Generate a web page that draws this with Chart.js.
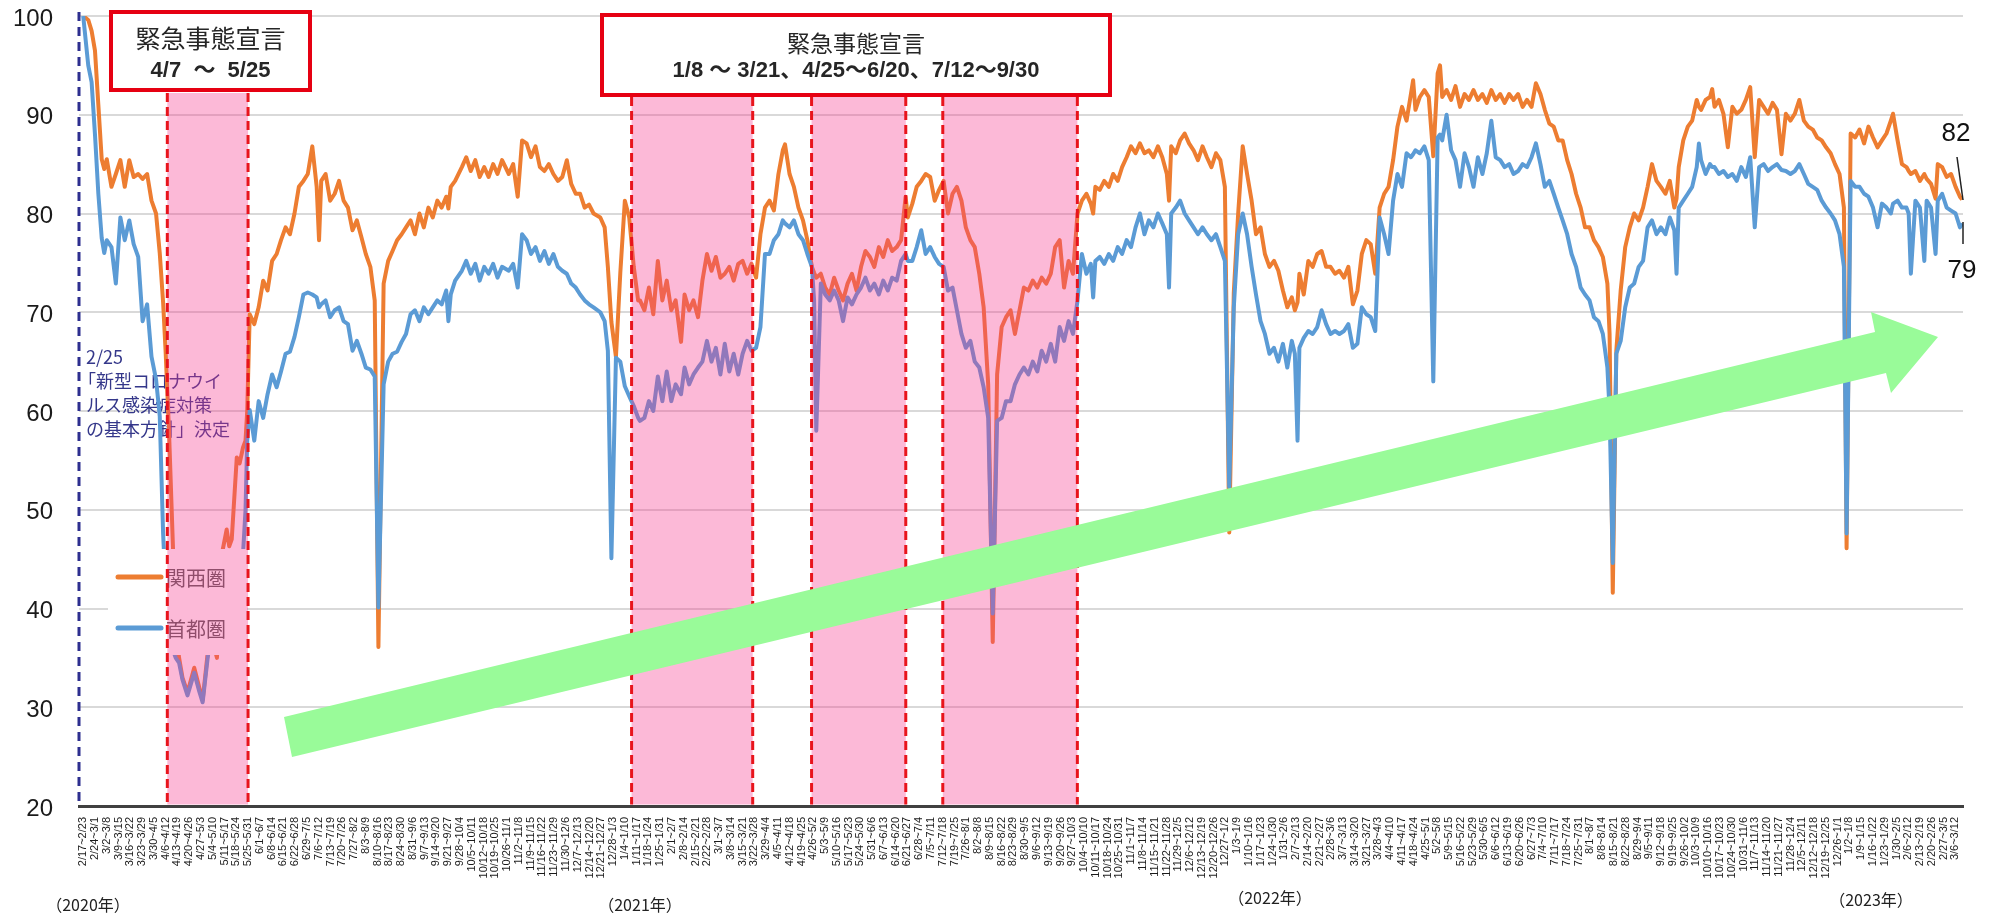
<!DOCTYPE html>
<html lang="ja">
<head>
<meta charset="utf-8">
<title>首都圏・関西圏 推移</title>
<script src="https://cdn.jsdelivr.net/npm/chart.js@4.4.1/dist/chart.umd.min.js"></script>
<style>
  html, body { margin: 0; padding: 0; background: #fff; }
  #wrap { width: 1995px; height: 913px; position: relative; }
</style>
</head>
<body>
<div id="wrap"><canvas id="chart"></canvas></div>
<script>
// day 0 = 2020-02-17 (first week on the axis)
const day0 = Date.UTC(2020, 1, 17);
const dayOf = s => { const [Y, M, D] = s.split('-').map(Number); return (Date.UTC(Y, M - 1, D) - day0) / 864e5; };

// days since 2020-02-17 for each reading
const days = [
  // 2020 spring
  0, 3, 5, 7, 9, 11, 12.5, 14, 16.8, 19.4,
  22.1, 24.7, 27.4, 30, 32.7, 35.3, 38, 40.6, 43.3, 45.5,
  47.5, 49, 51, 53, 55, 57, 59, 62, 66, 69,
  71, 74, 76.5, 79.5, 81, 83, 85.3, 86.8, 88.3, 91.3,
  93, 95, 96.5, 97.5, 99,
  // 2020 summer - winter
  101.7, 104.3, 107, 109.6, 112.3, 115, 117.6, 120.3, 122.9, 125.6,
  128.2, 130.9, 133.5, 136.2, 138.8, 140.2, 141.5, 144.1, 146.8, 149.5,
  152.1, 154.8, 157.4, 160.1, 162.7, 165.4, 168, 170.7, 173.3, 175.5,
  178.6, 181.3, 183.9, 186.6, 189.3, 191.9, 194.6, 197.2, 199.9, 202.5,
  205.2, 207.8, 210.5, 213.1, 215.8, 217.1, 218.5, 221.1, 225.1, 227.7,
  230.4, 233.1, 235.7, 238.4, 241, 243.7, 246.3, 249, 253, 255.6,
  258.3, 260.9, 263.6, 266.2, 268.9, 271.5, 274.2, 276.8, 279.5, 282.2,
  284.8, 287.5, 290.1, 292.8, 295.4, 298.1, 300.7, 303.4, 307.4, 310,
  311.9, 314, 316.7, 319.3, 322, 324.6, 327.3, 329.9,
  // 2021
  331, 333.6, 336.3, 338.9, 341.6, 344.3, 346.9, 349.6, 352.2, 355.4,
  357.5, 360.2, 362.8, 365.5, 368.1, 370.8, 373.5, 376.1, 378.8, 381.4,
  384.1, 386.7, 389.4, 392, 394.7, 397.3, 400, 402.6, 405.3, 408,
  410.6, 413.3, 415.9, 417.2, 419.9, 422.5, 425.2, 427.9, 430.5, 433.2,
  434.5, 435.8, 438.5, 441.1, 443.8, 446.4, 449.1, 451.7, 454.4, 457,
  459.7, 462.4, 465, 467.7, 470.3, 473, 475.6, 478.3, 480.9, 483.6,
  486.2, 488.9, 490.2, 492.9, 495.5, 498.2, 500.8, 503.5, 506.2, 508.8,
  511.5, 514.1, 516.8, 519.4, 522.1, 524.7, 527.4, 530, 532.7, 535.3,
  538, 540.7, 543.3, 546, 548.6, 551.3, 553.9, 556.6, 559.2, 561.9,
  564.5, 567.2, 569.8, 572.5, 575.2, 577.8, 580.5, 583.1, 585.8, 588.4,
  591.1, 593.7, 596.4, 599, 600.4, 601.7, 604.3, 607, 609.7, 612.3,
  615, 617.6, 620.3, 622.9, 625.6, 628.2, 630.9, 633.5, 636.2, 638.9,
  641.5, 644.2, 645.5, 646.8, 649.5, 652.1, 654.8, 657.4, 660.1, 662.7,
  665.4, 668, 670.7, 673.4, 676, 678.7, 681.3, 684, 686.6, 689.3,
  691.9, 694.6, 697.2, 699.9, 702.5, 705.2, 707.9, 710.5, 713.2, 715.8,
  718.5,
  // 2022 - 2023
  720.3, 721.9, 723, 725.6, 728.3, 730.9, 733.6, 736.2, 738.9, 741.5,
  744.2, 746.8, 749.5, 752.1, 754.8, 757.5, 760.1, 762.8, 765.4, 768.1,
  770.7, 773.4, 776, 778.7, 781.3, 784, 786.7, 789.3, 790.6, 792,
  794.6, 797.3, 799.9, 802.6, 805.2, 806.6, 807.9, 810.5, 813.2, 815.8,
  818.5, 821.2, 823.8, 826.5, 829.1, 831.8, 834.4, 837.1, 839.7, 842.4,
  845, 847.7, 850.3, 853, 855.7, 858.3, 861, 863.6, 866.3, 868.9,
  871.6, 874.2, 876.9, 879.5, 882.2, 884.8, 887.5, 890.2, 892.8, 895.5,
  898.1, 900.8, 903.4, 906.1, 907.4, 909.3, 911.4, 914, 916.7, 919.4,
  922, 924.7, 927.3, 930, 932.6, 935.3, 937.9, 940.6, 943.2, 945.9,
  947.2, 948.5, 951.2, 953.9, 956.5, 959.2, 960.5, 961.8, 964.5, 967.1,
  968.4, 969.8, 972.4, 975.1, 977.7, 980.4, 983, 985.7, 988.4, 991,
  993.7, 996.3, 999, 1001.6, 1004.3, 1006.9, 1009.6, 1012.2, 1014.9, 1017.5,
  1020.2, 1022.9, 1025.5, 1028.2, 1030.8, 1033.5, 1036.1, 1038.8, 1041.4, 1044.1,
  1046.7, 1048.3, 1050.7, 1053.4, 1056, 1058.7, 1061.3, 1064, 1066.7, 1069.3,
  1072, 1074.6, 1075.9, 1078.6, 1081.2, 1083.9, 1085.2, 1086.5, 1089.2, 1091.9,
  1094.5, 1095.9, 1098.5, 1101.2, 1102.5, 1105.1, 1107.8, 1110.4, 1113.1, 1115.7,
  1117
];

// 関西圏
const kansai = [
  100, 99.6, 98.5, 96.5, 91, 85.5, 84.5, 85.5, 82.7, 84,
  85.4, 82.7, 85.4, 83.7, 84, 83.5, 84, 81.3, 80, 76,
  71, 66, 58, 48, 38, 35, 33, 31.5, 34, 32,
  30.7, 35.5, 37, 35, 40, 46, 48, 46.3, 47, 55.3,
  54.7, 56.3, 57, 60, 69.8,
  68.8, 70.5, 73.2, 72.2, 75.2, 75.9, 77.3, 78.6, 77.9, 80,
  82.7, 83.3, 84, 86.8, 82.7, 77.3, 83.3, 84, 81.3, 82,
  83.3, 81.3, 80.6, 78.3, 79.3, 77.6, 75.9, 74.6, 71.2, 36.1,
  72.9, 75.2, 76.2, 77.3, 77.9, 78.6, 79.3, 77.9, 80, 78.6,
  80.6, 79.6, 81.3, 80.6, 81.7, 80.5, 82.7, 83.3, 84.7, 85.7,
  84.3, 85.4, 83.7, 84.7, 83.7, 85, 84, 85.4, 84, 85,
  81.7, 87.4, 87.1, 85.7, 86.8, 84.7, 84.3, 85, 84, 83.3,
  83.7, 85.4, 83, 82, 82, 80.6, 80.9, 80, 79.6, 78.6,
  74.6, 69, 65.5, 74, 81.3, 79.6, 74.6, 71.2,
  71.2, 70.2, 72.5, 69.8, 75.2, 71.2, 73.2, 70.2, 71.2, 67,
  71.8, 70.2, 71.2, 69.5, 73.2, 75.9, 74.2, 75.6, 73.5, 73.9,
  74.6, 73.2, 74.9, 75.2, 73.9, 74.9, 73.5, 77.9, 80.6, 81.3,
  80.3, 84, 86.4, 87, 84, 82.7, 80.6, 79.3, 77.3, 74.6,
  74, 73.5, 73.9, 72.5, 71.8, 73.5, 72.2, 71.2, 72.9, 73.9,
  72.2, 74.6, 76.2, 75.6, 74.6, 76.6, 75.6, 77.3, 76.2, 76.6,
  77.3, 81.7, 79.6, 81, 82.7, 83.3, 84, 83.7, 81.3, 82.4,
  83.3, 80, 82, 82.7, 81.3, 78.6, 77.3, 76.6, 73.9, 70.5,
  62.7, 36.6, 63.7, 68.5, 69.5, 70.2, 67.8, 70.2, 72.5, 72.2,
  73.2, 72.5, 73.5, 72.9, 73.9, 76.6, 77.3, 72.5, 75.2, 73.9,
  80, 81.3, 82, 81, 80, 82.7, 82.4, 83.3, 82.7, 84,
  83.3, 84.7, 85.7, 86.8, 86.1, 87.1, 86.1, 86.4, 85.7, 86.8,
  85.7, 84, 81.3, 86.8, 86.1, 87.4, 88.1, 87.1, 86.4, 85.4,
  86.8, 85.7, 84.7, 86.1, 85.4, 82.7, 47.7, 72, 80, 86.8,
  84, 81.3, 77.9, 78.6, 75.9, 74.6, 75.2, 74.2, 72.2, 70.5,
  71.5,
  70.2, 71, 73.9, 71.8, 75.2, 74.6, 75.9, 76.2, 74.6, 74.6,
  73.9, 74.2, 73.5, 74.6, 70.8, 72.2, 75.9, 77.3, 76.9, 73.9,
  80.6, 82, 82.7, 85.4, 88.8, 90.8, 89.4, 92.1, 93.5, 90.5,
  91.8, 92.5, 91.8, 85.8, 94.2, 95, 91.8, 92.5, 91.5, 92.9,
  90.8, 92.1, 91.5, 92.5, 91.5, 92.1, 91.2, 92.5, 91.5, 92.1,
  91.2, 92.1, 91.5, 92.1, 90.8, 91.5, 90.8, 93.2, 92.1, 90.5,
  89.1, 88.8, 87.4, 87.4, 85.4, 84, 82, 80.6, 78.6, 78.6,
  77.3, 76.6, 75.6, 72.9, 67.8, 41.6, 66.1, 72.2, 76.6, 78.6,
  80, 79.3, 80.6, 82.7, 85, 83.3, 82.7, 82, 83.3, 80.6,
  81.5, 84.7, 87.4, 88.8, 89.4, 91.5, 90.8, 90.5, 91.5, 91.8,
  92.6, 90.8, 91.5, 90.1, 86.7, 90.8, 90.1, 90.5, 91.5, 92.8,
  85.7, 91.5, 90.8, 90.1, 91.2, 90.5, 86, 90.1, 89.4, 90.1,
  91.5, 89.4, 88.8, 88.5, 87.7, 87.4, 86.7, 86.1, 85, 84,
  80.6, 46.1, 88.1, 87.7, 88.5, 87.1, 88.8, 87.7, 86.7, 87.4,
  88.1, 89.4, 90.1, 87.4, 85, 84.7, 84.3, 84, 84.3, 83.3,
  84, 83.5, 83, 81.5, 85, 84.7, 83.7, 84, 82.7, 81.7,
  81.4
];

// 首都圏
const shuto = [
  100, 95, 93.3, 88, 82, 77.5, 76, 77.3, 76.6, 72.9,
  79.6, 77.3, 79.3, 76.9, 75.6, 69.1, 70.8, 65.5, 63.2, 59.5,
  47.6, 42, 38, 36, 35, 34.5, 32.8, 31.2, 33.5, 31.6,
  30.5, 35, 38, 40, 42, 43, 44, 44, 44, 44.5,
  45, 45.5, 50, 57, 60.1,
  57, 61, 59.3, 61.7, 63.7, 62.4, 64, 65.8, 66, 67.5,
  69.5, 71.8, 72, 71.8, 71.5, 70.5, 70.8, 71.2, 69.5, 70.2,
  70.5, 69.1, 68.8, 66.1, 67.1, 65.8, 64.4, 64.2, 63.5, 40.1,
  62.7, 65, 65.8, 66, 67, 67.8, 69.8, 70.2, 69.1, 70.5,
  69.8, 70.5, 71.2, 70.8, 72.2, 69.1, 71.8, 73.2, 74.2, 75.2,
  73.9, 74.9, 73.2, 74.6, 73.9, 74.9, 73.5, 74.6, 74.2, 74.9,
  72.5, 77.9, 77.3, 75.9, 76.6, 75.2, 76.2, 74.9, 75.9, 74.6,
  74.2, 73.9, 72.9, 72.5, 71.8, 71.2, 70.8, 70.5, 70, 69.1,
  66.1, 45.1, 65.4, 65, 62.5, 61.5, 60.5, 59.3,
  59, 59.3, 61, 60, 63.5, 61, 64, 61, 62.7, 61.7,
  64.4, 62.7, 63.7, 64.4, 65, 67.1, 65, 66.4, 63.7, 66.8,
  64, 65.8, 63.7, 65.8, 67.1, 66.1, 66.4, 68.5, 75.9, 75.9,
  77.3, 77.9, 79.3, 79, 78.6, 79.3, 77.9, 77.3, 75.9, 74.6,
  71.2, 58, 72.9, 71.8, 71.2, 72.2, 71.2, 69.1, 71.5, 70.8,
  71.8, 72.5, 73.5, 72.2, 72.9, 71.8, 73.2, 72.2, 73.5, 73.2,
  75.2, 75.9, 75.2, 75.2, 76.6, 78.3, 75.9, 76.6, 75.6, 74.9,
  74.6, 72.2, 72.5, 70.2, 67.8, 66.4, 67.1, 65, 64.4, 62.4,
  59.3, 39.5, 59, 59.3, 61, 61, 62.7, 63.7, 64.4, 63.7,
  65, 64, 66.1, 65, 66.8, 65, 68.5, 67.1, 69.1, 67.8,
  71.2, 75.9, 73.9, 74.9, 71.5, 75.2, 75.6, 74.9, 75.9, 75.2,
  76.6, 75.9, 77.3, 76.6, 78.6, 80, 77.9, 79.3, 78.6, 80,
  79, 77.9, 72.5, 80, 80.6, 81.3, 80, 79.3, 78.6, 77.9,
  78.6, 77.9, 77.3, 77.9, 76.6, 75.2, 52.3, 70.5, 77.9, 80,
  77.9, 74.6, 71.8, 69.1, 67.8, 65.8, 66.4, 65, 66.8, 64.4,
  67.1,
  65.8, 57, 66.4, 67.4, 68.1, 67.8, 68.5, 70.2, 68.8, 67.8,
  68.1, 67.8, 68.1, 68.8, 66.4, 66.8, 70.5, 69.8, 69.5, 68.1,
  79.6, 77.9, 75.9, 81.3, 84, 82.7, 86.1, 85.7, 86, 86.4,
  86.1, 86.8, 85.4, 63, 87.7, 88, 87.4, 90, 86.4, 85.4,
  82.7, 86.1, 84.7, 82.7, 85.7, 84, 86.1, 89.4, 85.7, 85.4,
  84.7, 85, 84, 84.3, 85, 84.7, 85.7, 87.1, 85, 82.7,
  83.3, 82, 80.6, 79.3, 77.9, 75.9, 74.6, 72.5, 71.8, 71.2,
  69.5, 69.1, 67.8, 64.4, 60, 44.6, 65.8, 67.1, 70.5, 72.5,
  72.9, 74.6, 75.2, 78.6, 79.3, 77.9, 78.6, 77.9, 79.6, 78.3,
  73.9, 80.6, 81.3, 82, 82.7, 84.7, 87.1, 85.4, 84, 85,
  84.7, 84.7, 84, 84.3, 83.7, 84, 83.3, 84.7, 83.7, 85.7,
  78.6, 84.7, 85, 84.3, 84.7, 85, 84.4, 84.3, 84, 84.3,
  85, 84, 83, 82.7, 82.4, 81.3, 80.6, 80, 79.3, 77.9,
  74.6, 47.6, 83.3, 82.7, 82.7, 82, 81.7, 80.6, 78.6, 81,
  80.6, 80, 81, 81.3, 80.6, 80.6, 80, 73.9, 81.3, 80.6,
  75.2, 81.3, 80.6, 75.9, 81.3, 82, 80.6, 80.3, 80, 78.6,
  79
];

// 緊急事態宣言の期間
const emergencyPeriods = [
  ['2020-04-07', '2020-05-25'],
  ['2021-01-08', '2021-03-21'],
  ['2021-04-25', '2021-06-20'],
  ['2021-07-12', '2021-09-30']
];

// weekly tick labels along the x axis
const weekDays = [];
const weekLabels = [];
for (let i = 0; i < 160; i++) {
  const s = new Date(day0 + i * 7 * 864e5);
  const e = new Date(day0 + (i * 7 + 6) * 864e5);
  weekDays.push(i * 7);
  weekLabels.push(`${s.getUTCMonth() + 1}/${s.getUTCDate()}~${e.getUTCMonth() + 1}/${e.getUTCDate()}`);
}

const yearLabels = [['（2020年）', 88, 905], ['（2021年）', 640, 905], ['（2022年）', 1270, 898], ['（2023年）', 1871, 900]];
const noteLines = ['2/25', '「新型コロナウイ', 'ルス感染症対策', 'の基本方針」決定'];

const JP = '"Noto Sans CJK JP", sans-serif';
const LAT = '"Liberation Sans", Arial, "Noto Sans CJK JP", sans-serif';

const decorations = {
  id: 'decorations',
  beforeDatasetsDraw(chart) {
    const c = chart.ctx;
    c.save();
    c.fillStyle = '#34378a';
    c.font = '18px ' + JP;
    c.textBaseline = 'middle';
    noteLines.forEach((t, i) => c.fillText(t, i === 1 ? 78 : 86, 357 + i * 24));
    c.restore();
  },
  afterDatasetsDraw(chart) {
    const c = chart.ctx;
    const a = chart.chartArea;
    const x = chart.scales.x;
    c.save();

    // legend (white backing like the original legend box)
    c.fillStyle = '#fff';
    c.fillRect(108, 549, 139, 106);
    c.lineCap = 'round';
    c.lineWidth = 5;
    [['#ed7d31', '関西圏', 577], ['#5b9bd5', '首都圏', 628]].forEach(([col, name, ly]) => {
      c.strokeStyle = col;
      c.beginPath(); c.moveTo(118, ly); c.lineTo(161, ly); c.stroke();
      c.fillStyle = '#595959';
      c.font = '20px ' + JP;
      c.textBaseline = 'middle';
      c.fillText(name, 166, ly + 1);
    });
    c.lineCap = 'butt';

    // emergency bands
    emergencyPeriods.forEach(([s, e], i) => {
      const x0 = x.getPixelForValue(dayOf(s));
      const x1 = x.getPixelForValue(dayOf(e));
      const top = i === 0 ? 93 : 97;
      const bot = a.bottom - 1.5;
      c.fillStyle = 'rgba(246,55,141,0.35)';
      c.fillRect(x0, top, x1 - x0, bot - top);
      c.strokeStyle = '#e8141c';
      c.lineWidth = 3;
      c.setLineDash([9, 5]);
      [x0, x1].forEach(px => { c.beginPath(); c.moveTo(px, top); c.lineTo(px, bot); c.stroke(); });
    });

    // 2/25 marker on the left edge
    c.strokeStyle = '#2d2f8f';
    c.lineWidth = 3;
    c.setLineDash([9, 6]);
    c.beginPath(); c.moveTo(a.left, 12); c.lineTo(a.left, a.bottom); c.stroke();
    c.setLineDash([]);

    // green trend arrow
    c.fillStyle = '#99fb99';
    c.beginPath();
    c.moveTo(284, 717); c.lineTo(1875, 332); c.lineTo(1871, 312); c.lineTo(1938, 337);
    c.lineTo(1891, 393); c.lineTo(1886, 373); c.lineTo(292, 757);
    c.closePath(); c.fill();

    // annotation boxes
    const box = (bx, by, bw, bh) => {
      c.fillStyle = '#fff';
      c.fillRect(bx, by, bw, bh);
      c.strokeStyle = '#e60012';
      c.lineWidth = 4;
      c.strokeRect(bx + 2, by + 2, bw - 4, bh - 4);
    };
    c.textAlign = 'center';
    c.textBaseline = 'middle';
    box(109, 10, 203, 82);
    c.fillStyle = '#262626';
    c.font = '25px ' + JP;
    c.fillText('緊急事態宣言', 210.5, 38);
    c.font = 'bold 22px ' + LAT;
    c.fillText('4/7  ～  5/25', 210.5, 71);
    box(600, 13, 512, 84);
    c.fillStyle = '#262626';
    c.font = '23px ' + JP;
    c.fillText('緊急事態宣言', 856, 43);
    c.font = 'bold 22px ' + LAT;
    c.fillText('1/8 ～ 3/21、4/25～6/20、7/12～9/30', 856, 71);

    // latest values
    c.fillStyle = '#111';
    c.font = '26px ' + LAT;
    c.fillText('82', 1956, 134);
    c.fillText('79', 1962, 271);
    c.strokeStyle = '#222';
    c.lineWidth = 1.5;
    c.beginPath(); c.moveTo(1957, 157); c.lineTo(1963, 200); c.stroke();
    c.beginPath(); c.moveTo(1963, 222); c.lineTo(1963, 244); c.stroke();

    // years under the axis
    c.fillStyle = '#222';
    c.font = '16px ' + JP;
    yearLabels.forEach(([t, px, py]) => c.fillText(t, px, py));
    c.restore();
  }
};

new Chart(document.getElementById('chart'), {
  type: 'line',
  data: {
    datasets: [
      {
        label: '首都圏',
        data: days.map((d, i) => ({ x: d, y: shuto[i] })),
        borderColor: '#5b9bd5',
        borderWidth: 4,
        pointRadius: 0,
        tension: 0,
        borderJoinStyle: 'round'
      },
      {
        label: '関西圏',
        data: days.map((d, i) => ({ x: d, y: kansai[i] })),
        borderColor: '#ed7d31',
        borderWidth: 4,
        pointRadius: 0,
        tension: 0,
        borderJoinStyle: 'round'
      }
    ]
  },
  options: {
    responsive: true,
    maintainAspectRatio: false,
    animation: false,
    events: [],
    layout: { autoPadding: false, padding: { top: 16, right: 32, left: 0, bottom: 0 } },
    plugins: { legend: { display: false }, tooltip: { enabled: false } },
    scales: {
      x: {
        type: 'linear',
        min: -2.5,
        max: 1117.5,
        grid: { display: false },
        border: { display: true, color: '#404040', width: 3 },
        afterBuildTicks: s => { s.ticks = weekDays.map(v => ({ value: v })); },
        afterFit: s => { s.height = 107; },
        ticks: {
          autoSkip: false,
          minRotation: 90,
          maxRotation: 90,
          padding: 3,
          color: '#1a1a1a',
          font: { family: LAT, size: 11 },
          callback: (v, i) => weekLabels[i]
        }
      },
      y: {
        min: 20,
        max: 100,
        grid: { color: '#d9d9d9', lineWidth: 2, drawTicks: false },
        border: { display: false },
        // keep the plot top at the layout padding (labels sit left of the area)
        afterFit: s => { s.width = 79; s.paddingTop = 0; s.paddingBottom = 0; },
        ticks: {
          stepSize: 10,
          padding: 26,
          labelOffset: 3,
          color: '#1a1a1a',
          font: { family: LAT, size: 24 }
        }
      }
    }
  },
  plugins: [decorations]
});
</script>
</body>
</html>
